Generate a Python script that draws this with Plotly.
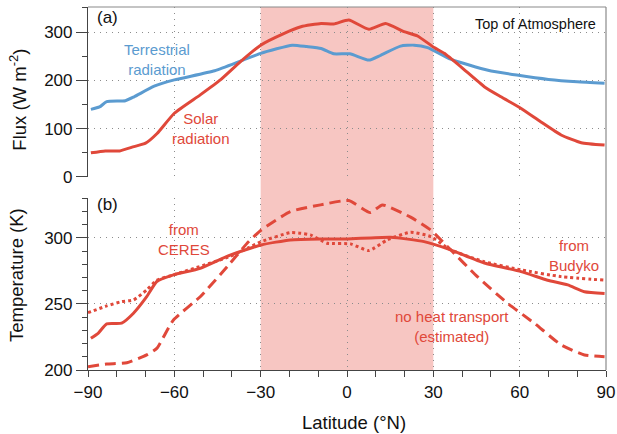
import plotly.graph_objects as go

# ---- Data ----
lat_terr = [-89, -86, -83.5, -77, -74, -67, -60, -46, -37, -30, -19, -14, -9, -4.6, 1, 7.6, 11.7, 18.6, 23.3, 28, 36, 49, 59, 70, 80, 89.5]
terrestrial = [140, 145, 156, 158, 166, 188, 201, 220, 240, 256, 273, 270, 266, 255, 255, 242, 252, 271, 273, 268, 244, 221, 211, 202, 197, 194]

lat_solar = [-89, -84, -79, -74, -70, -66, -60, -51, -44, -37, -30, -22, -16, -9, -4.6, 0.6, 7.6, 13.4, 19.8, 24.5, 30.3, 33.8, 39.6, 47.7, 53.5, 60.5, 67.4, 74.4, 81.4, 89.5]
solar = [50, 54, 54, 63, 70, 90, 132, 170, 201, 239, 273, 297, 311, 318, 317, 325, 306, 318, 301, 292, 268, 256, 228, 187, 166, 142, 114, 87, 71, 66]

lat_ceres = [-89, -86.4, -83.5, -78.3, -74.2, -69.6, -66.1, -60.3, -51, -40.6, -29.8, -19.7, -9.2, 0.1, 15.2, 26.8, 36, 47.7, 60.5, 69.7, 76.7, 82.5, 89.5]
temp_ceres = [224, 228, 235, 235.5, 243, 255.5, 267, 272, 277, 287, 294.7, 298.5, 299.2, 299.2, 300.5, 297.2, 291, 281, 274.5, 268, 264.4, 259.3, 258]

lat_budyko = [-90, -83.5, -78.3, -74.2, -69.6, -66.1, -60.3, -40.6, -34.7, -29.8, -19.7, -16, -12.7, -6.9, 1.2, 7.6, 14, 22.1, 29.1, 36, 47.7, 60.5, 74.4, 89.5]
temp_budyko = [243.4, 248.5, 251.8, 253, 260.6, 268, 272, 286, 292, 297.2, 304, 303.5, 302.3, 296, 295.5, 290.4, 298.5, 304.3, 301, 291, 282, 275.8, 270.7, 268]

lat_noheat = [-90, -83.5, -76.5, -69.6, -66.1, -60.3, -51, -40.6, -34.7, -29.8, -19.7, -9.2, 0.6, 8.1, 12.3, 22.1, 29.1, 36, 45.3, 55.8, 65.1, 74.4, 82.5, 89.5]
temp_noheat = [202.5, 204.5, 205.5, 211.4, 216.4, 237.9, 255.5, 280.8, 296, 306, 319.9, 325, 328.3, 319.2, 325, 315.7, 306, 291, 270.7, 250.5, 235.4, 219, 211.4, 210]

x_tickvals = [-90, -60, -30, 0, 30, 60, 90]
x_ticktext = ["\u221290", "\u221260", "\u221230", "0", "30", "60", "90"]

RED = "#e0483a"
BLUE = "#5b9bd0"
SHADE = "#f7c6c2"
FONT = "Liberation Sans, Arial, sans-serif"

fig = go.Figure()
sm = 0.5
fig.add_trace(go.Scatter(x=lat_terr, y=terrestrial, mode="lines", line=dict(color=BLUE, width=3, shape="spline", smoothing=sm), xaxis="x", yaxis="y"))
fig.add_trace(go.Scatter(x=lat_solar, y=solar, mode="lines", line=dict(color=RED, width=3, shape="spline", smoothing=sm), xaxis="x", yaxis="y"))
fig.add_trace(go.Scatter(x=lat_ceres, y=temp_ceres, mode="lines", line=dict(color=RED, width=3, shape="spline", smoothing=sm), xaxis="x2", yaxis="y2"))
fig.add_trace(go.Scatter(x=lat_budyko, y=temp_budyko, mode="lines", line=dict(color=RED, width=3, dash="3px,3px", shape="spline", smoothing=sm), xaxis="x2", yaxis="y2"))
fig.add_trace(go.Scatter(x=lat_noheat, y=temp_noheat, mode="lines", line=dict(color=RED, width=3, dash="11px,6px", shape="spline", smoothing=sm), xaxis="x2", yaxis="y2"))

grid = dict(showgrid=True, gridcolor="#8c8c8c", gridwidth=1, griddash="1px,5px", zeroline=False)
tickf = dict(family=FONT, size=17, color="#111")

fig.update_layout(
    width=617, height=434,
    margin=dict(l=88, r=11, t=7, b=64, autoexpand=False),
    paper_bgcolor="white", plot_bgcolor="rgba(0,0,0,0)",
    showlegend=False,
    font=dict(family=FONT, color="#111"),
    xaxis=dict(domain=[0, 1], range=[-90, 90], anchor="y", showline=False, ticks="", showticklabels=False,
               tick0=0, dtick=30, automargin=False, **grid),
    yaxis=dict(domain=[0.5317, 1], range=[0, 352], anchor="x", showline=True, linecolor="#444", linewidth=1.2,
               ticks="outside", ticklen=11, tickcolor="#444", tick0=0, dtick=100, tickfont=tickf, automargin=False,
               minor=dict(dtick=50, ticklen=5, ticks="outside", tickcolor="#444", showgrid=False), **grid),
    xaxis2=dict(domain=[0, 1], range=[-90, 90], anchor="y2", showline=True, linecolor="#444", linewidth=1.2,
                ticks="outside", ticklen=6, tickcolor="#444", tickfont=tickf, automargin=False,
                tickvals=x_tickvals, ticktext=x_ticktext,
                minor=dict(dtick=10, tick0=0, ticklen=6, ticks="outside", tickcolor="#444", showgrid=False), **grid),
    yaxis2=dict(domain=[0, 0.473], range=[200, 330], anchor="x2", showline=True, linecolor="#444", linewidth=1.2,
                ticks="outside", ticklen=11, tickcolor="#444", tick0=200, dtick=50, tickfont=tickf, automargin=False,
                minor=dict(dtick=10, ticklen=5, ticks="outside", tickcolor="#444", showgrid=False), **grid),
)

fig.add_shape(type="rect", xref="x", yref="paper", x0=-30, x1=30, y0=0, y1=1,
              fillcolor=SHADE, line=dict(width=0), layer="below")
fig.add_shape(type="line", xref="paper", yref="paper", x0=1, x1=1, y0=0, y1=1,
              line=dict(color="#8a8a8a", width=1.2), layer="above")
fig.add_shape(type="line", xref="paper", yref="paper", x0=0, x1=1, y0=1, y1=1,
              line=dict(color="#8a8a8a", width=1.2), layer="above")

def ann(text, x, y, xr, yr, color="#111", size=15, xanchor="center", yanchor="middle", **kw):
    fig.add_annotation(text=text, x=x, y=y, xref=xr, yref=yr, showarrow=False,
                       font=dict(family=FONT, size=size, color=color),
                       xanchor=xanchor, yanchor=yanchor, **kw)

ann("(a)", -87.6, 330, "x", "y", size=17, xanchor="left")
ann("Top of Atmosphere", 87.2, 317, "x", "y", size=14.5, xanchor="right")
ann("Terrestrial<br>radiation", -66, 244, "x", "y", color=BLUE)
ann("Solar<br>radiation", -50.7, 101, "x", "y", color=RED)
ann("(b)", -87.6, 325, "x2", "y2", size=17, xanchor="left")
ann("from<br>CERES", -56.6, 299, "x2", "y2", color=RED)
ann("from<br>Budyko", 79, 286.4, "x2", "y2", color=RED)
ann("no heat transport<br>(estimated)", 36.5, 232.8, "x2", "y2", color=RED)

ann("Flux (W m<sup>-2</sup>)", -0.135, 0.745, "paper", "paper", size=18.5, textangle=-90)
ann("Temperature (K)", -0.137, 0.262, "paper", "paper", size=18.5, textangle=-90)
ann("Latitude (°N)", 0.514, -0.146, "paper", "paper", size=18.5)

fig.write_html("out.html", config={"displayModeBar": False},
               post_script="document.body.style.margin='0px';")
